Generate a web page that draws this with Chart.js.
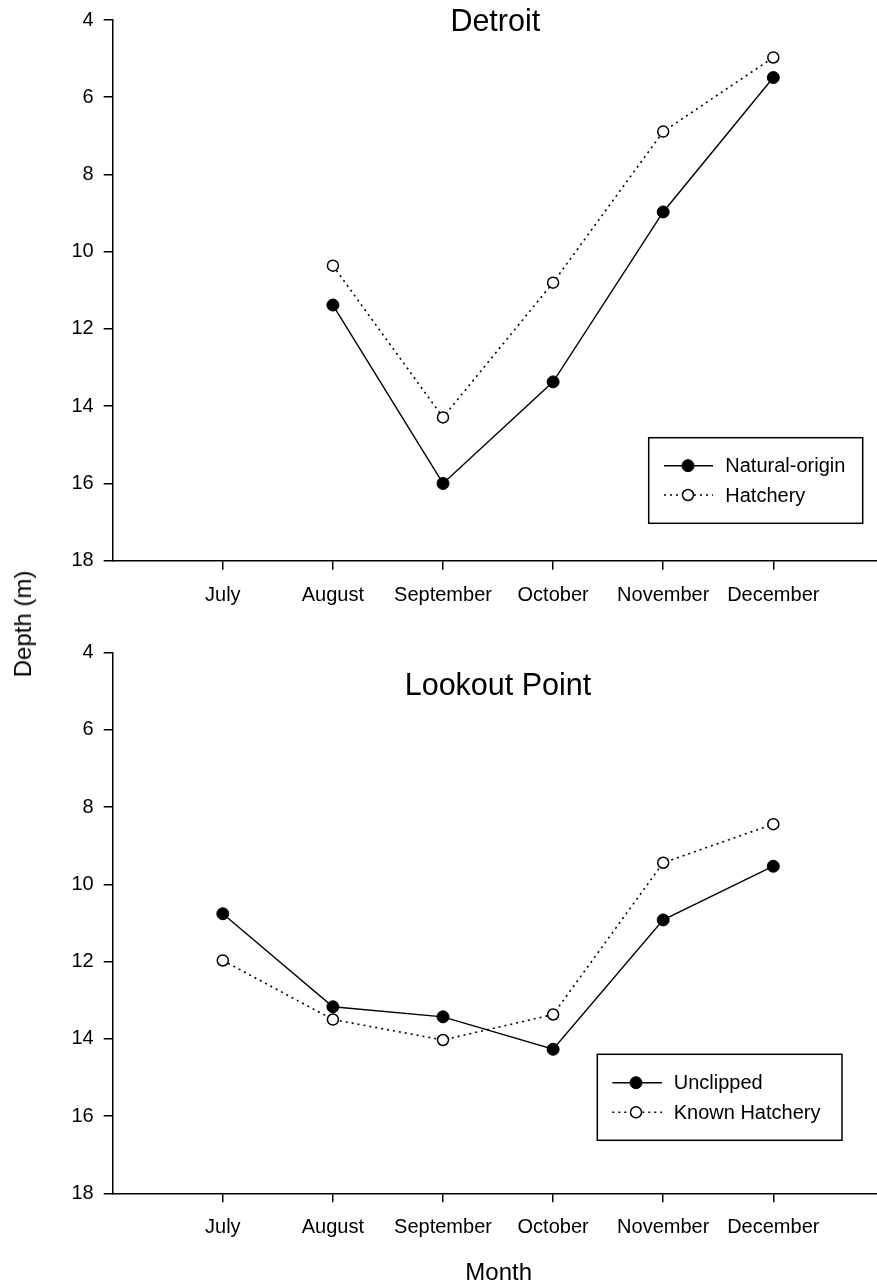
<!DOCTYPE html>
<html>
<head>
<meta charset="utf-8">
<script src="https://cdn.jsdelivr.net/npm/chart.js@4/dist/chart.umd.min.js"></script>
<style>
  html, body { margin: 0; padding: 0; background: #fff; overflow: hidden; }
  body { width: 877px; height: 1284px; position: relative; font-family: "Liberation Sans", Arial, sans-serif; }
  canvas { position: absolute; left: 0; }
  #c1 { top: 0; }
  #c2 { top: 630px; }
  .lbl { position: absolute; font-size: 24px; line-height: 24px; white-space: nowrap; color: #000; transform-origin: center center; }
</style>
</head>
<body>
<canvas id="c1" width="877" height="630"></canvas>
<canvas id="c2" width="877" height="654"></canvas>
<div class="lbl" id="ylab" style="left:23.4px; top:623.5px; transform: translate(-50%,-50%) rotate(-90deg);">Depth (m)</div>
<div class="lbl" id="xlab" style="left:498.7px; top:1271.7px; transform: translate(-50%,-50%);">Month</div>
<script>
// ---- data ----
const months = ['July', 'August', 'September', 'October', 'November', 'December'];
const depthTicks = [4, 6, 8, 10, 12, 14, 16, 18];

const detroitTitle = 'Detroit';
const detroitNatural = [null, 11.38, 16.0, 13.37, 8.97, 5.49];
const detroitHatchery = [null, 10.36, 14.29, 10.8, 6.89, 4.97];

const lookoutTitle = 'Lookout Point';
const lookoutUnclipped = [10.76, 13.17, 13.43, 14.27, 10.92, 9.53];
const lookoutKnownHatchery = [11.97, 13.5, 14.03, 13.37, 9.44, 8.44];

// ---- helpers ----
Chart.defaults.color = '#000';
Chart.defaults.font.family = '"Liberation Sans", Arial, sans-serif';

const FONT = '"Liberation Sans", Arial, sans-serif';

function toXY(values) {
  return values.map((v, i) => ({ x: i + 1, y: v }));
}

const filledStyle = {
  borderColor: '#000', borderWidth: 1.4,
  pointRadius: 6, pointBackgroundColor: '#000', pointBorderColor: '#000', pointBorderWidth: 1,
  pointStyle: 'circle', borderDash: [], tension: 0, spanGaps: false
};
const openStyle = {
  borderColor: '#000', borderWidth: 1.6,
  pointRadius: 5.5, pointBackgroundColor: '#fff', pointBorderColor: '#000', pointBorderWidth: 1.5,
  pointStyle: 'circle', borderDash: [2, 4], tension: 0, spanGaps: false
};

const overlayPlugin = {
  id: 'overlay',
  afterDraw(chart, args, opts) {
    const ctx = chart.ctx;
    ctx.save();
    // title
    ctx.fillStyle = '#000';
    ctx.font = '30.5px ' + FONT;
    ctx.textAlign = 'center';
    ctx.textBaseline = 'alphabetic';
    ctx.fillText(opts.title, opts.titleX, opts.titleY);
    // legend box
    const L = opts.legend;
    ctx.lineWidth = 1.5;
    ctx.strokeStyle = '#000';
    ctx.setLineDash([]);
    ctx.strokeRect(L.x, L.y, L.w, L.h);
    ctx.font = '20px ' + FONT;
    ctx.textAlign = 'left';
    ctx.textBaseline = 'middle';
    chart.data.datasets.forEach((ds, i) => {
      const ry = L.rowY[i];
      ctx.beginPath();
      ctx.setLineDash(ds.borderDash || []);
      ctx.lineWidth = ds.borderWidth;
      ctx.moveTo(L.lineX0, ry);
      ctx.lineTo(L.lineX1, ry);
      ctx.stroke();
      ctx.setLineDash([]);
      ctx.beginPath();
      ctx.arc(L.markX, ry, ds.pointRadius, 0, Math.PI * 2);
      ctx.fillStyle = ds.pointBackgroundColor;
      ctx.fill();
      ctx.lineWidth = ds.pointBorderWidth;
      ctx.strokeStyle = ds.pointBorderColor;
      ctx.stroke();
      ctx.fillStyle = '#000';
      ctx.fillText(ds.label, L.textX, ry + 1);
    });
    ctx.restore();
  }
};

function makeChart(id, datasets, cfg) {
  return new Chart(document.getElementById(id), {
    type: 'line',
    data: { datasets },
    options: {
      responsive: false,
      animation: false,
      events: [],
      layout: { autoPadding: false, padding: { top: cfg.top, left: 0, right: 0, bottom: 0 } },
      plugins: {
        legend: { display: false },
        tooltip: { enabled: false },
        title: { display: false },
        overlay: cfg.overlay
      },
      scales: {
        x: {
          type: 'linear',
          min: 0,
          max: cfg.xMax,
          afterBuildTicks: (s) => { s.ticks = months.map((m, i) => ({ value: i + 1 })); },
          afterFit: (s) => { s.height = cfg.xHeight; s.paddingLeft = 0; s.paddingRight = 0; },
          ticks: {
            autoSkip: false,
            maxRotation: 0,
            padding: 13.5,
            font: { size: 20, family: FONT },
            color: '#000',
            callback: (v) => months[v - 1] || ''
          },
          grid: { drawOnChartArea: false, drawTicks: true, tickLength: 9, color: '#000', lineWidth: 1.5 },
          border: { display: true, color: '#000', width: 1.5 }
        },
        y: {
          type: 'linear',
          reverse: true,
          min: depthTicks[0],
          max: depthTicks[depthTicks.length - 1],
          afterBuildTicks: (s) => { s.ticks = depthTicks.map(v => ({ value: v })); },
          afterFit: (s) => { s.width = 112.7; s.paddingTop = 0; s.paddingBottom = 0; },
          ticks: {
            padding: 10,
            font: { size: 20, family: FONT },
            color: '#000'
          },
          grid: { drawOnChartArea: false, drawTicks: true, tickLength: 9, color: '#000', lineWidth: 1.5 },
          border: { display: true, color: '#000', width: 1.5 }
        }
      }
    },
    plugins: [overlayPlugin]
  });
}

makeChart('c1', [
  Object.assign({ label: 'Natural-origin', data: toXY(detroitNatural) }, filledStyle),
  Object.assign({ label: 'Hatchery', data: toXY(detroitHatchery) }, openStyle)
], {
  top: 20,
  xHeight: 630 - 560.7,
  xMax: (877 - 112.7) / 110.1,
  overlay: {
    title: detroitTitle, titleX: 495.3, titleY: 30.7,
    legend: { x: 648.7, y: 437.7, w: 214, h: 85.6, rowY: [465.7, 495], lineX0: 664, lineX1: 713, markX: 688, textX: 725.3 }
  }
});

makeChart('c2', [
  Object.assign({ label: 'Unclipped', data: toXY(lookoutUnclipped) }, filledStyle),
  Object.assign({ label: 'Known Hatchery', data: toXY(lookoutKnownHatchery) }, openStyle)
], {
  top: 22.7,
  xHeight: 654 - 563.3,
  xMax: (877 - 112.7) / 110.1,
  overlay: {
    title: lookoutTitle, titleX: 498, titleY: 65,
    legend: { x: 597.3, y: 424.3, w: 244.7, h: 86, rowY: [452.7, 482.3], lineX0: 612.3, lineX1: 662, markX: 636, textX: 673.7 }
  }
});
</script>
</body>
</html>
